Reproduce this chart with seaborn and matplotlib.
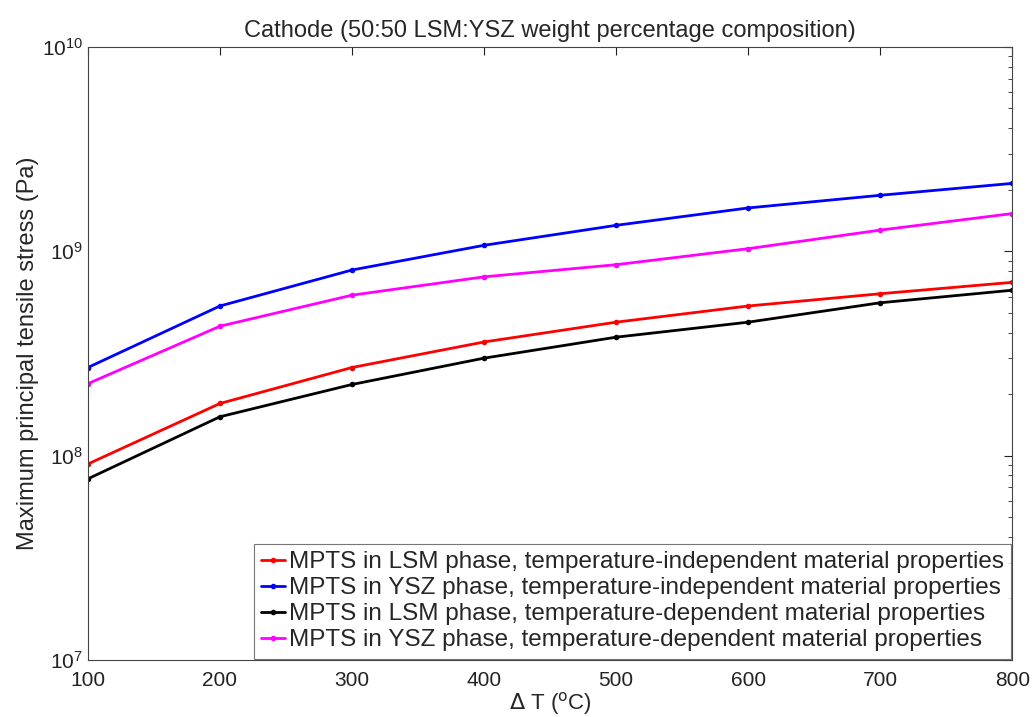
import numpy as np
import pandas as pd
import matplotlib
matplotlib.use("Agg")
import matplotlib.pyplot as plt
import seaborn as sns
from matplotlib.ticker import LogLocator, NullFormatter

# --------------------------------------------------------------------------- #
# Data
# --------------------------------------------------------------------------- #
delta_t = [100, 200, 300, 400, 500, 600, 700, 800]

lsm_indep = [9.1e7, 1.8e8, 2.7e8, 3.6e8, 4.5e8, 5.4e8, 6.2e8, 7.05e8]
ysz_indep = [2.7e8, 5.4e8, 8.1e8, 1.07e9, 1.34e9, 1.63e9, 1.88e9, 2.15e9]
lsm_dep = [7.7e7, 1.55e8, 2.23e8, 3.0e8, 3.8e8, 4.5e8, 5.6e8, 6.45e8]
ysz_dep = [2.25e8, 4.3e8, 6.1e8, 7.5e8, 8.6e8, 1.03e9, 1.27e9, 1.53e9]

series_names = [
    "MPTS in LSM phase, temperature-independent material properties",
    "MPTS in YSZ phase, temperature-independent material properties",
    "MPTS in LSM phase, temperature-dependent material properties",
    "MPTS in YSZ phase, temperature-dependent material properties",
]
series_values = [lsm_indep, ysz_indep, lsm_dep, ysz_dep]
colors = ["#ff0000", "#0000ff", "#000000", "#ff00ff"]

df = pd.concat(
    [pd.DataFrame({"dT": delta_t, "stress": v, "series": n})
     for n, v in zip(series_names, series_values)],
    ignore_index=True,
)

# --------------------------------------------------------------------------- #
# Plot
# --------------------------------------------------------------------------- #
sns.set_style("white")
plt.rcParams["font.family"] = ["Liberation Sans", "DejaVu Sans"]

fig = plt.figure(figsize=(10.34, 7.17), dpi=100)
ax = fig.add_axes([0.085, 0.0795, 0.894, 0.855])

sns.lineplot(
    data=df, x="dT", y="stress", hue="series", hue_order=series_names,
    palette=colors, marker="o", markersize=4, markeredgewidth=0,
    linewidth=2, ax=ax,
)

ax.set_yscale("log")
ax.set_xlim(100, 800)
ax.set_ylim(1e7, 1e10)
ax.set_xticks(delta_t)
ax.yaxis.set_major_locator(LogLocator(base=10, numticks=10))
ax.yaxis.set_minor_locator(LogLocator(base=10, subs=np.arange(2, 10), numticks=10))
ax.yaxis.set_minor_formatter(NullFormatter())

ax.tick_params(axis="both", which="both", direction="in", top=True, right=True,
               labelsize=15, colors="#222222")
ax.tick_params(axis="x", pad=8)
ax.tick_params(which="major", length=6, width=0.8)
ax.tick_params(which="minor", length=3, width=0.6)
for s in ax.spines.values():
    s.set_color("#444444")
    s.set_linewidth(0.8)

ax.set_title("Cathode (50:50 LSM:YSZ weight percentage composition)",
             fontsize=17, pad=7)
ax.set_xlabel(r"$\Delta$ T ($^{\mathrm{o}}$C)", fontsize=16, labelpad=0)
ax.set_ylabel("Maximum principal tensile stress (Pa)", fontsize=17, labelpad=2)

leg = ax.legend(loc="lower right", fontsize=17.5, frameon=True, fancybox=False,
                handlelength=1.0, handletextpad=0.15, borderpad=0.3,
                labelspacing=0.17, borderaxespad=0.05)
leg.get_frame().set_edgecolor("#555555")
leg.get_frame().set_linewidth(0.8)

fig.savefig("out.png", dpi=100)
